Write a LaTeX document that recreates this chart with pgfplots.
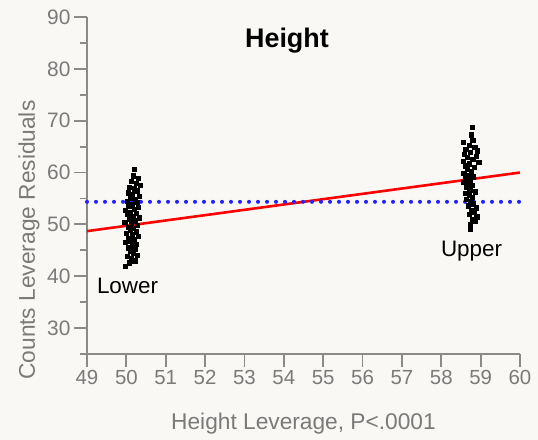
\documentclass[border=0pt]{standalone}
\usepackage{fontspec}
\setmainfont{Liberation Sans}
\usepackage{pgfplots}
\pgfplotsset{compat=1.18}
\definecolor{bgc}{HTML}{F9F8F5}
\definecolor{axg}{HTML}{8A8A8A}
\definecolor{txg}{HTML}{7A7A7A}
\definecolor{dotblue}{HTML}{2222FF}
\begin{document}
\begin{tikzpicture}
\fill[bgc] (-87bp,-86bp) rectangle (451bp,354bp);
\begin{axis}[
  at={(0,0)}, anchor=south west,
  scale only axis, width=433bp, height=337bp,
  xmin=49, xmax=60, ymin=25, ymax=90,
  axis x line*=bottom, axis y line*=left,
  axis line style={axg, line width=1.8bp},
  xtick={49,50,...,60}, ytick={30,40,...,90},
  minor ytick={25,35,...,85},
  tick align=outside,
  major tick length=13bp, minor tick length=7bp,
  every tick/.style={axg, line width=1.8bp},
  /pgf/number format/assume math mode=true,
  ticklabel style={font=\fontsize{20.5}{21}\selectfont, text=txg},
  yticklabel style={font=\fontsize{21}{22}\selectfont},
  xlabel={Height Leverage, P<.0001},
  ylabel={Counts Leverage Residuals},
  label style={font=\fontsize{22.8}{24}\selectfont, text=txg},
  xlabel style={at={(axis description cs:0.5,-0.2226)}, anchor=base},
  ylabel style={at={(axis description cs:-0.1201,0.338)}, anchor=base},
  clip=false,
]
\addplot[red, line width=2.6bp] coordinates {(49,48.7) (60,60.0)};
\addplot[dotblue, line width=4bp, line cap=round, dash pattern=on 0pt off 9bp] coordinates {(49,54.35) (60,54.35)};
\addplot[only marks, mark=square*, mark size=2.1bp, black] coordinates {
(50.19,60.7) (50.17,59.4) (50.30,58.9) (50.12,58.3) (50.24,58.0) (50.35,57.6)
(50.08,57.2) (50.20,56.9) (50.28,56.5) (50.05,56.1) (50.15,55.8) (50.32,55.5)
(50.10,55.1) (50.22,54.8) (50.03,54.5) (50.27,54.3) (50.14,53.9) (50.06,53.5)
(50.31,53.3) (50.19,53.0) (49.98,52.7) (50.10,52.4) (50.25,52.2) (50.02,51.9)
(50.16,51.6) (50.33,51.3) (50.07,51.0) (50.21,50.7) (49.96,50.4) (50.12,50.1)
(50.28,49.9) (50.04,49.5) (50.18,49.2) (50.10,48.9) (50.24,48.6) (49.99,48.3)
(50.14,48.0) (50.30,47.7) (50.06,47.4) (50.20,47.1) (50.11,46.8) (49.97,46.5)
(50.26,46.2) (50.15,45.9) (50.04,45.5) (50.22,45.2) (50.09,44.9) (50.17,44.5)
(50.27,44.1) (50.02,43.8) (50.13,43.4) (50.21,43.0) (50.08,42.6) (49.98,41.9)
};
\addplot[only marks, mark=square*, mark size=2.1bp, black] coordinates {
(58.78,68.8) (58.76,67.3) (58.80,66.2) (58.56,65.8) (58.70,65.3) (58.85,64.9)
(58.62,64.5) (58.92,64.2) (58.74,63.9) (58.58,63.5) (58.88,63.2) (58.66,62.9)
(58.80,62.6) (58.55,62.2) (58.95,62.0) (58.71,61.7) (58.60,61.3) (58.84,61.0)
(58.65,60.6) (58.77,60.3) (58.57,59.9) (58.69,59.5) (58.82,59.2) (58.61,58.8)
(58.74,58.5) (58.56,58.1) (58.67,57.8) (58.79,57.5) (58.63,57.1) (58.72,56.7)
(58.86,56.3) (58.60,56.0) (58.70,55.6) (58.78,55.2) (58.64,54.8) (58.75,54.4)
(58.82,54.0) (58.68,53.6) (58.88,53.2) (58.76,52.8) (58.84,52.4) (58.70,51.9)
(58.90,51.5) (58.78,51.0) (58.86,50.6) (58.74,50.0) (58.73,49.1)
};
\node[font=\bfseries\fontsize{27}{28}\selectfont, anchor=base] at (axis cs:54.08,84.2) {Height};
\node[font=\fontsize{22.5}{23}\selectfont, anchor=base] at (axis cs:50.03,36.76) {Lower};
\node[font=\fontsize{22.5}{23}\selectfont, anchor=base] at (axis cs:58.77,43.9) {Upper};
\end{axis}
\end{tikzpicture}
\end{document}
